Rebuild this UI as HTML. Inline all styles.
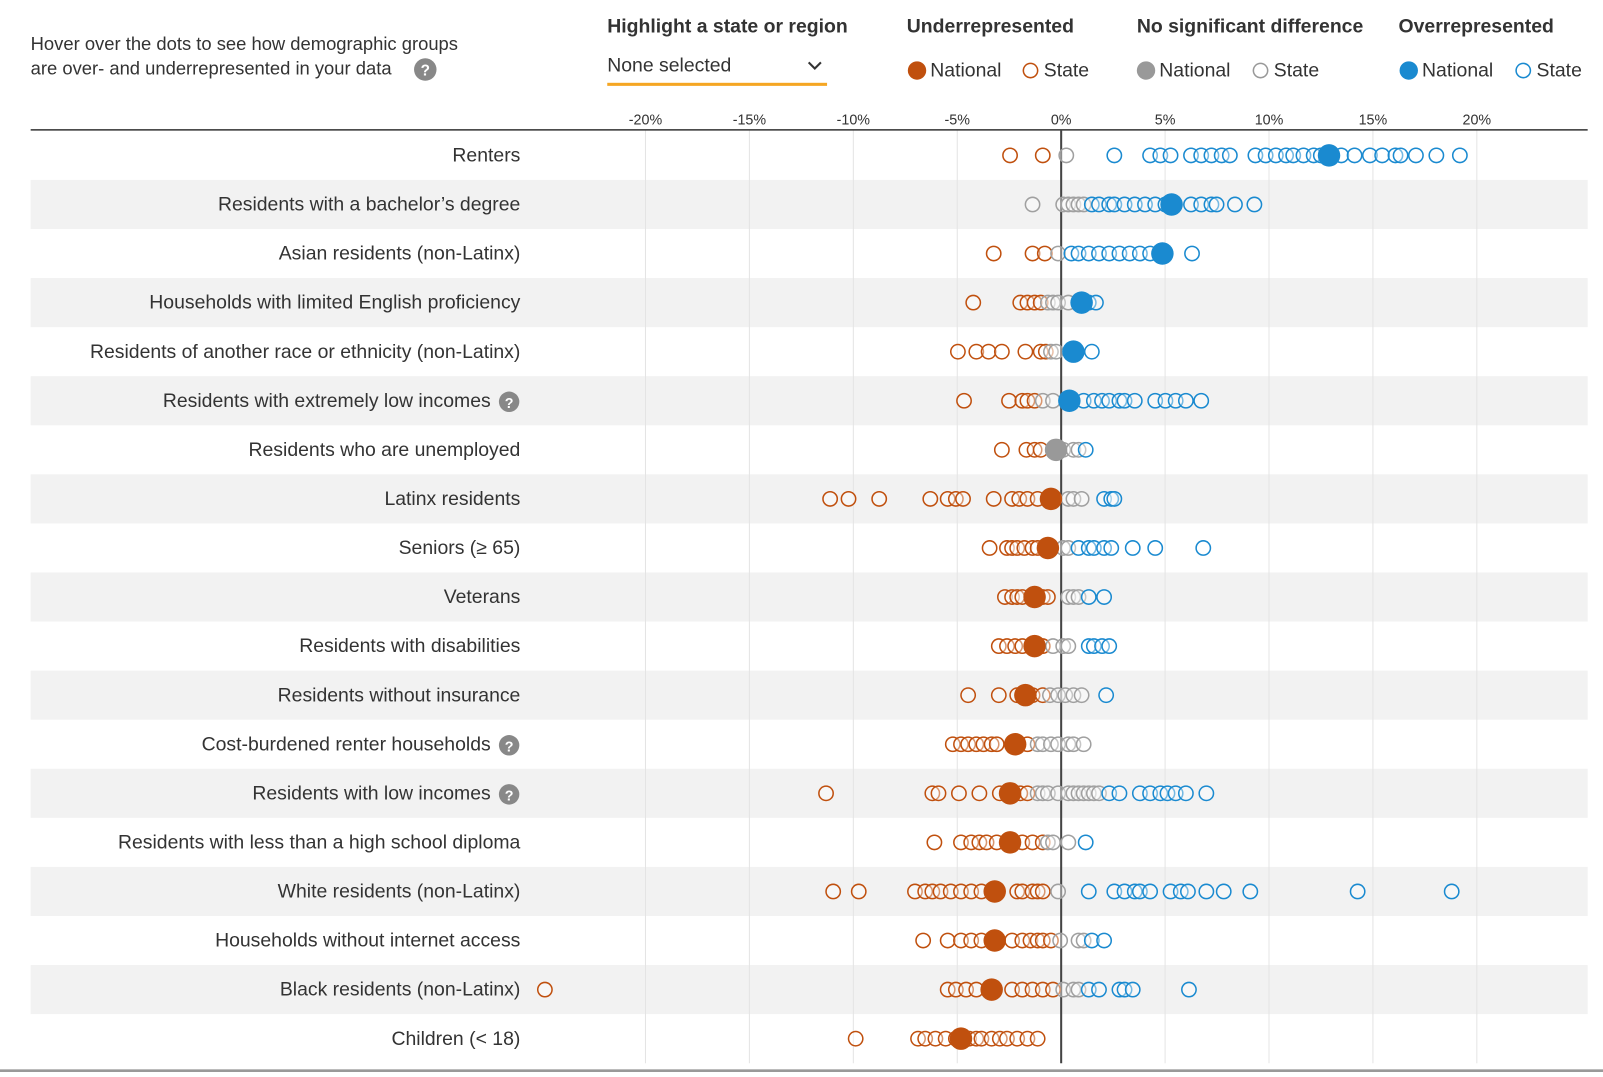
<!DOCTYPE html>
<html><head><meta charset="utf-8"><style>
body{margin:0;background:#fff;width:1603px;height:1072px;overflow:hidden;font-family:"Liberation Sans",sans-serif;}
</style></head><body>
<svg id="s" width="1603" height="1072" xmlns="http://www.w3.org/2000/svg" font-family="Liberation Sans, sans-serif">
<g transform="scale(1.02232)">
<text x="30" y="49" font-size="18" fill="#333">Hover over the dots to see how demographic groups</text>
<text x="30" y="73" font-size="18" fill="#333">are over- and underrepresented in your data</text>
<circle cx="416" cy="68" r="11" fill="#888"/><text x="416" y="74" font-size="15" font-weight="bold" fill="#fff" text-anchor="middle">?</text>
<text x="594" y="32" font-size="19" font-weight="bold" fill="#333">Highlight a state or region</text>
<text x="594" y="70" font-size="19" fill="#333">None selected</text>
<path d="M791 61 l6 6 l6 -6" stroke="#333" stroke-width="2" fill="none"/>
<rect x="594" y="81" width="215" height="3" fill="#f5a623"/>
<text x="887" y="32" font-size="19" font-weight="bold" fill="#333">Underrepresented</text>
<circle cx="897" cy="69" r="9" fill="#c0500e"/><text x="910" y="75" font-size="19" fill="#333">National</text>
<circle cx="1008" cy="69" r="7" fill="none" stroke="#c0500e" stroke-width="1.5"/><text x="1021" y="75" font-size="19" fill="#333">State</text>
<text x="1112" y="32" font-size="19" font-weight="bold" fill="#333">No significant difference</text>
<circle cx="1121" cy="69" r="9" fill="#999"/><text x="1134" y="75" font-size="19" fill="#333">National</text>
<circle cx="1233" cy="69" r="7" fill="none" stroke="#999" stroke-width="1.5"/><text x="1246" y="75" font-size="19" fill="#333">State</text>
<text x="1368" y="32" font-size="19" font-weight="bold" fill="#333">Overrepresented</text>
<circle cx="1378" cy="69" r="9" fill="#1a8ad0"/><text x="1391" y="75" font-size="19" fill="#333">National</text>
<circle cx="1490" cy="69" r="7" fill="none" stroke="#1a8ad0" stroke-width="1.5"/><text x="1503" y="75" font-size="19" fill="#333">State</text>
<g id="g"></g>
</g>
</svg>
<script>
const NS="http://www.w3.org/2000/svg",g=document.getElementById('g');
function el(t,a,txt){const e=document.createElementNS(NS,t);for(const k in a)e.setAttribute(k,a[k]);if(txt!==undefined)e.textContent=txt;g.appendChild(e);return e;}
const O="#c0500e",B="#1a8ad0",G="#a0a0a0";
const rows=[
["Renters",0,[988,1020],[1043],[1090,1125,1135,1145,1165,1175,1185,1195,1203,1228,1238,1248,1258,1265,1275,1285,1292,1312,1325,1340,1352,1365,1370,1385,1405,1428],[1300,B]],
["Residents with a bachelor’s degree",0,[],[1010,1040,1045,1050,1055,1060],[1068,1075,1085,1090,1100,1110,1120,1130,1140,1165,1175,1185,1190,1208,1227],[1146,B]],
["Asian residents (non-Latinx)",0,[972,1010,1022],[1035],[1048,1055,1065,1075,1085,1095,1105,1115,1125,1166],[1137,B]],
["Households with limited English proficiency",0,[952,998,1005,1012,1018],[1025,1030,1035,1045],[1065,1072],[1058,B]],
["Residents of another race or ethnicity (non-Latinx)",0,[937,955,967,980,1003,1018,1023],[1028,1033],[1068],[1050,B]],
["Residents with extremely low incomes",1,[943,987,1000,1005,1012],[1020,1030],[1060,1070,1078,1085,1095,1100,1110,1130,1140,1150,1160,1175],[1046,B]],
["Residents who are unemployed",0,[980,1004,1012,1018],[1040,1050,1055],[1062],[1033,"#999"]],
["Latinx residents",0,[812,830,860,910,927,935,942,972,990,997,1005,1015],[1045,1050,1058],[1080,1087,1090],[1028,O]],
["Seniors (≥ 65)",0,[968,985,990,995,1002,1010,1015],[1040,1045],[1055,1065,1070,1080,1087,1108,1130,1177],[1025,O]],
["Veterans",0,[983,990,995,1000,1020,1025],[1045,1050,1055],[1065,1080],[1012,O]],
["Residents with disabilities",0,[977,985,993,1000,1020],[1030,1040,1045],[1065,1070,1078,1085],[1012,O]],
["Residents without insurance",0,[947,977,995,1010,1020],[1027,1035,1042,1050,1058],[1082],[1003,O]],
["Cost-burdened renter households",1,[932,940,947,955,962,970,975,1005],[1015,1020,1028,1035,1045,1050,1060],[],[993,O]],
["Residents with low incomes",1,[808,912,918,938,958,978,998,1005],[1015,1020,1025,1035,1045,1050,1055,1060,1065,1070,1075],[1085,1095,1115,1125,1135,1142,1150,1160,1180],[988,O]],
["Residents with less than a high school diploma",0,[914,940,950,958,965,975,1000,1010,1020],[1025,1030,1045],[1062],[988,O]],
["White residents (non-Latinx)",0,[815,840,895,905,912,920,930,940,950,960,972,995,1000,1010,1015,1020],[1035],[1065,1090,1100,1110,1115,1125,1145,1155,1162,1180,1197,1223,1328,1420],[973,O]],
["Households without internet access",0,[903,927,940,950,960,990,1000,1008,1015,1020,1028],[1037,1055,1060],[1068,1080],[973,O]],
["Black residents (non-Latinx)",0,[533,927,935,945,955,990,1000,1010,1020,1030],[1040,1050,1055],[1065,1075,1095,1100,1108,1163],[970,O]],
["Children (< 18)",0,[837,898,905,915,925,935,948,955,960,970,978,985,995,1005,1015],[],[],[940,O]]
];
rows.forEach((r,i)=>{const y=152+48*i;if(i%2)el('rect',{x:30,y:y-24,width:1523,height:48,fill:'#f2f2f2'});});
for(let p=-20;p<=20;p+=5){const x=1038+p*20.33;el('line',{x1:x,y1:127,x2:x,y2:1040,stroke:'#e4e4e4','stroke-width':1});el('text',{x:x,y:122,'font-size':14,fill:'#333','text-anchor':'middle'},p+'%');}
el('line',{x1:30,y1:127,x2:1553,y2:127,stroke:'#333','stroke-width':1.5});
el('line',{x1:1038,y1:127,x2:1038,y2:1040,stroke:'#444','stroke-width':2});
rows.forEach((r,i)=>{const y=152+48*i;
 let lx=509;if(r[1]){lx=480;el('circle',{cx:498,cy:y+1,r:10,fill:'#888'});el('text',{x:498,y:y+7,'font-size':14,'font-weight':'bold',fill:'#fff','text-anchor':'middle'},'?');}
 el('text',{x:lx,y:y+6,'font-size':19,fill:'#333','text-anchor':'end'},r[0]);
 [[r[2],O],[r[3],G],[r[4],B]].forEach(([a,c])=>a.forEach(x=>el('circle',{cx:x,cy:y,r:7,fill:'rgba(255,255,255,0.4)',stroke:c,'stroke-width':1.5})));
 el('circle',{cx:r[5][0],cy:y,r:11,fill:r[5][1]});
});
el('rect',{x:0,y:1046,width:1603,height:3,fill:'#999'});
</script>
</body></html>
